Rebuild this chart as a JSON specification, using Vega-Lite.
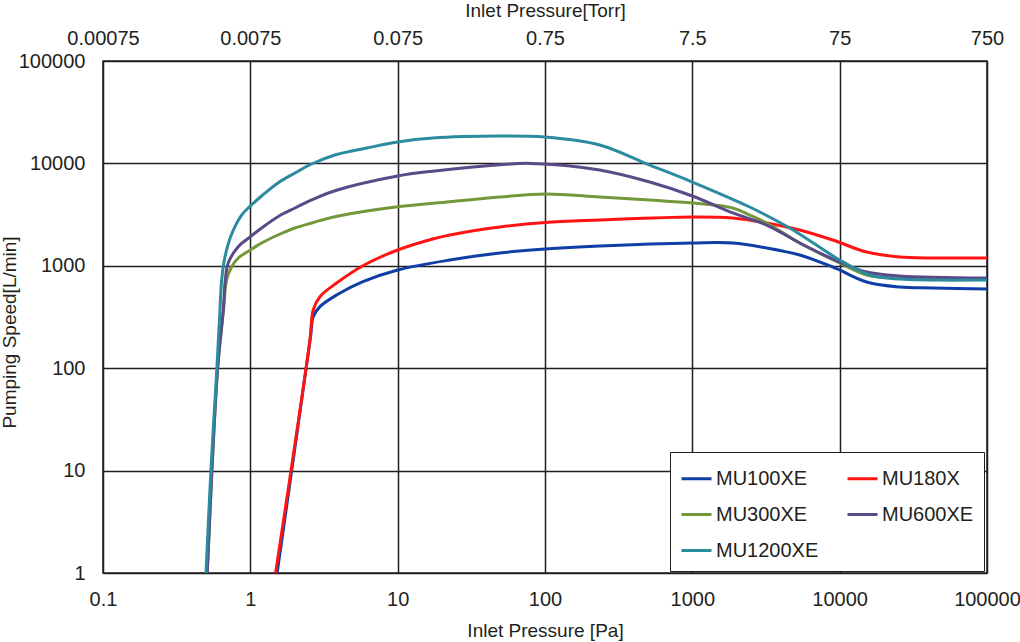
{
  "$schema": "https://vega.github.io/schema/vega-lite/v6.json",
  "width": 884,
  "height": 512,
  "autosize": "none",
  "padding": {"left": 103, "top": 61, "right": 33, "bottom": 69},
  "config": {
    "font": "Liberation Sans",
    "view": {"stroke": "#231f20", "strokeWidth": 1.5},
    "axis": {
      "labelFont": "Liberation Sans",
      "titleFont": "Liberation Sans",
      "labelFontSize": 20,
      "titleFontSize": 19,
      "titleFontWeight": "normal",
      "labelColor": "#231f20",
      "titleColor": "#231f20",
      "domain": false,
      "ticks": false,
      "gridColor": "#231f20",
      "gridOpacity": 1,
      "gridWidth": 1.5,
      "labelOverlap": false,
      "labelFlush": false
    }
  },
  "data": {
    "values": [
      {"s": "MU100XE", "p": 1.52, "q": 1},
      {"s": "MU100XE", "p": 2.56, "q": 200},
      {"s": "MU100XE", "p": 2.671, "q": 318},
      {"s": "MU100XE", "p": 2.967, "q": 399},
      {"s": "MU100XE", "p": 3.85, "q": 519},
      {"s": "MU100XE", "p": 5.81, "q": 700},
      {"s": "MU100XE", "p": 10, "q": 910},
      {"s": "MU100XE", "p": 22.6, "q": 1140},
      {"s": "MU100XE", "p": 49.4, "q": 1334},
      {"s": "MU100XE", "p": 100, "q": 1459},
      {"s": "MU100XE", "p": 235, "q": 1561},
      {"s": "MU100XE", "p": 1000, "q": 1670},
      {"s": "MU100XE", "p": 1879, "q": 1670},
      {"s": "MU100XE", "p": 3198, "q": 1493},
      {"s": "MU100XE", "p": 5355, "q": 1274},
      {"s": "MU100XE", "p": 8970, "q": 973},
      {"s": "MU100XE", "p": 10000, "q": 910},
      {"s": "MU100XE", "p": 15250, "q": 695},
      {"s": "MU100XE", "p": 25500, "q": 621},
      {"s": "MU100XE", "p": 42760, "q": 607},
      {"s": "MU100XE", "p": 100000, "q": 593},
      {"s": "MU180X", "p": 1.484, "q": 1},
      {"s": "MU180X", "p": 2.537, "q": 188},
      {"s": "MU180X", "p": 2.671, "q": 370},
      {"s": "MU180X", "p": 2.967, "q": 499},
      {"s": "MU180X", "p": 3.85, "q": 679},
      {"s": "MU180X", "p": 5.81, "q": 1002},
      {"s": "MU180X", "p": 10, "q": 1427},
      {"s": "MU180X", "p": 17.3, "q": 1828},
      {"s": "MU180X", "p": 22.6, "q": 2000},
      {"s": "MU180X", "p": 49.4, "q": 2393},
      {"s": "MU180X", "p": 100, "q": 2650},
      {"s": "MU180X", "p": 235, "q": 2800},
      {"s": "MU180X", "p": 1000, "q": 2998},
      {"s": "MU180X", "p": 1879, "q": 2930},
      {"s": "MU180X", "p": 3198, "q": 2618},
      {"s": "MU180X", "p": 5355, "q": 2237},
      {"s": "MU180X", "p": 8970, "q": 1786},
      {"s": "MU180X", "p": 15250, "q": 1364},
      {"s": "MU180X", "p": 25500, "q": 1219},
      {"s": "MU180X", "p": 42760, "q": 1192},
      {"s": "MU180X", "p": 100000, "q": 1192},
      {"s": "MU300XE", "p": 0.51, "q": 1},
      {"s": "MU300XE", "p": 0.6, "q": 100},
      {"s": "MU300XE", "p": 0.66, "q": 390},
      {"s": "MU300XE", "p": 0.69, "q": 727},
      {"s": "MU300XE", "p": 0.747, "q": 980},
      {"s": "MU300XE", "p": 0.828, "q": 1192},
      {"s": "MU300XE", "p": 1, "q": 1427},
      {"s": "MU300XE", "p": 1.193, "q": 1670},
      {"s": "MU300XE", "p": 1.539, "q": 1999},
      {"s": "MU300XE", "p": 2.007, "q": 2340},
      {"s": "MU300XE", "p": 2.606, "q": 2618},
      {"s": "MU300XE", "p": 3.75, "q": 3017},
      {"s": "MU300XE", "p": 10, "q": 3777},
      {"s": "MU300XE", "p": 22.6, "q": 4227},
      {"s": "MU300XE", "p": 49.4, "q": 4697},
      {"s": "MU300XE", "p": 100, "q": 5025},
      {"s": "MU300XE", "p": 235, "q": 4697},
      {"s": "MU300XE", "p": 514, "q": 4393},
      {"s": "MU300XE", "p": 1000, "q": 4105},
      {"s": "MU300XE", "p": 1879, "q": 3666},
      {"s": "MU300XE", "p": 2450, "q": 3133},
      {"s": "MU300XE", "p": 3198, "q": 2618},
      {"s": "MU300XE", "p": 5355, "q": 1670},
      {"s": "MU300XE", "p": 10000, "q": 1065},
      {"s": "MU300XE", "p": 15250, "q": 813},
      {"s": "MU300XE", "p": 25500, "q": 760},
      {"s": "MU300XE", "p": 100000, "q": 743},
      {"s": "MU600XE", "p": 0.51, "q": 1},
      {"s": "MU600XE", "p": 0.6, "q": 100},
      {"s": "MU600XE", "p": 0.655, "q": 370},
      {"s": "MU600XE", "p": 0.673, "q": 679},
      {"s": "MU600XE", "p": 0.708, "q": 1065},
      {"s": "MU600XE", "p": 0.828, "q": 1537},
      {"s": "MU600XE", "p": 1, "q": 1923},
      {"s": "MU600XE", "p": 1.193, "q": 2340},
      {"s": "MU600XE", "p": 1.539, "q": 3017},
      {"s": "MU600XE", "p": 2.007, "q": 3666},
      {"s": "MU600XE", "p": 2.606, "q": 4393},
      {"s": "MU600XE", "p": 3.75, "q": 5410},
      {"s": "MU600XE", "p": 10, "q": 7535},
      {"s": "MU600XE", "p": 17.3, "q": 8400},
      {"s": "MU600XE", "p": 49.4, "q": 9700},
      {"s": "MU600XE", "p": 80, "q": 10000},
      {"s": "MU600XE", "p": 235, "q": 8625},
      {"s": "MU600XE", "p": 514, "q": 6580},
      {"s": "MU600XE", "p": 1000, "q": 4805},
      {"s": "MU600XE", "p": 1879, "q": 3280},
      {"s": "MU600XE", "p": 3198, "q": 2502},
      {"s": "MU600XE", "p": 5355, "q": 1670},
      {"s": "MU600XE", "p": 10000, "q": 1089},
      {"s": "MU600XE", "p": 15250, "q": 869},
      {"s": "MU600XE", "p": 25500, "q": 795},
      {"s": "MU600XE", "p": 100000, "q": 760},
      {"s": "MU1200XE", "p": 0.5, "q": 1},
      {"s": "MU1200XE", "p": 0.54, "q": 10},
      {"s": "MU1200XE", "p": 0.593, "q": 100},
      {"s": "MU1200XE", "p": 0.622, "q": 370},
      {"s": "MU1200XE", "p": 0.639, "q": 727},
      {"s": "MU1200XE", "p": 0.673, "q": 1227},
      {"s": "MU1200XE", "p": 0.747, "q": 2045},
      {"s": "MU1200XE", "p": 0.873, "q": 3133},
      {"s": "MU1200XE", "p": 1, "q": 3837},
      {"s": "MU1200XE", "p": 1.193, "q": 4805},
      {"s": "MU1200XE", "p": 1.539, "q": 6440},
      {"s": "MU1200XE", "p": 2.007, "q": 8055},
      {"s": "MU1200XE", "p": 2.606, "q": 9865},
      {"s": "MU1200XE", "p": 3.75, "q": 12080},
      {"s": "MU1200XE", "p": 6.18, "q": 14130},
      {"s": "MU1200XE", "p": 10, "q": 16180},
      {"s": "MU1200XE", "p": 17.3, "q": 17700},
      {"s": "MU1200XE", "p": 49.4, "q": 18520},
      {"s": "MU1200XE", "p": 100, "q": 18100},
      {"s": "MU1200XE", "p": 235, "q": 15130},
      {"s": "MU1200XE", "p": 514, "q": 9640},
      {"s": "MU1200XE", "p": 1000, "q": 6580},
      {"s": "MU1200XE", "p": 2450, "q": 3750},
      {"s": "MU1200XE", "p": 4580, "q": 2340},
      {"s": "MU1200XE", "p": 10000, "q": 1140},
      {"s": "MU1200XE", "p": 15980, "q": 813},
      {"s": "MU1200XE", "p": 25500, "q": 743},
      {"s": "MU1200XE", "p": 100000, "q": 727}
    ]
  },
  "layer": [
    {
      "mark": {"type": "line", "interpolate": "catmull-rom", "strokeWidth": 3},
      "encoding": {
        "x": {
          "field": "p",
          "type": "quantitative",
          "scale": {"type": "log", "domain": [0.1, 100000], "nice": false},
          "axis": {
            "orient": "bottom",
            "title": "Inlet Pressure [Pa]",
            "values": [0.1, 1, 10, 100, 1000, 10000, 100000],
            "labelExpr": "format(datum.value, '~g')",
            "labelBaseline": "alphabetic",
            "labelPadding": 32,
            "titleY": 63,
            "titleBaseline": "alphabetic"
          }
        },
        "y": {
          "field": "q",
          "type": "quantitative",
          "scale": {"type": "log", "domain": [1, 100000], "nice": false},
          "axis": {
            "title": "Pumping Speed[L/min]",
            "values": [1, 10, 100, 1000, 10000, 100000],
            "format": "d",
            "labelPadding": 18,
            "titleX": -88,
            "titleY": 271,
            "titleAngle": -90,
            "titleBaseline": "alphabetic"
          }
        },
        "color": {
          "field": "s",
          "type": "nominal",
          "scale": {
            "domain": ["MU100XE", "MU180X", "MU300XE", "MU600XE", "MU1200XE"],
            "range": ["#0f3fa6", "#ff1414", "#73983a", "#5a4a88", "#2b8b9f"]
          },
          "legend": {
            "orient": "none",
            "legendX": 567,
            "legendY": 391,
            "direction": "horizontal",
            "columns": 2,
            "title": null,
            "symbolType": "stroke",
            "symbolStrokeWidth": 3,
            "symbolSize": 900,
            "labelFont": "Liberation Sans",
            "labelFontSize": 20,
            "labelColor": "#231f20",
            "labelOffset": 3,
            "strokeColor": "#231f20",
            "fillColor": "white",
            "padding": 10,
            "rowPadding": 9,
            "columnPadding": 22
          }
        },
        "order": {"field": "p", "type": "quantitative"}
      }
    },
    {
      "mark": {"type": "line", "strokeOpacity": 0},
      "encoding": {
        "x": {
          "field": "p",
          "type": "quantitative",
          "scale": {"type": "log", "domain": [0.1, 100000], "nice": false},
          "axis": {
            "orient": "top",
            "title": "Inlet Pressure[Torr]",
            "grid": false,
            "values": [0.1, 1, 10, 100, 1000, 10000, 100000],
            "labelExpr": "format(datum.value * 0.0075, '~g')",
            "labelBaseline": "alphabetic",
            "labelPadding": 17,
            "titleY": -44.5,
            "titleBaseline": "alphabetic"
          }
        },
        "y": {"field": "q", "type": "quantitative"},
        "detail": {"field": "s"}
      }
    }
  ],
  "resolve": {"axis": {"x": "independent"}}
}
